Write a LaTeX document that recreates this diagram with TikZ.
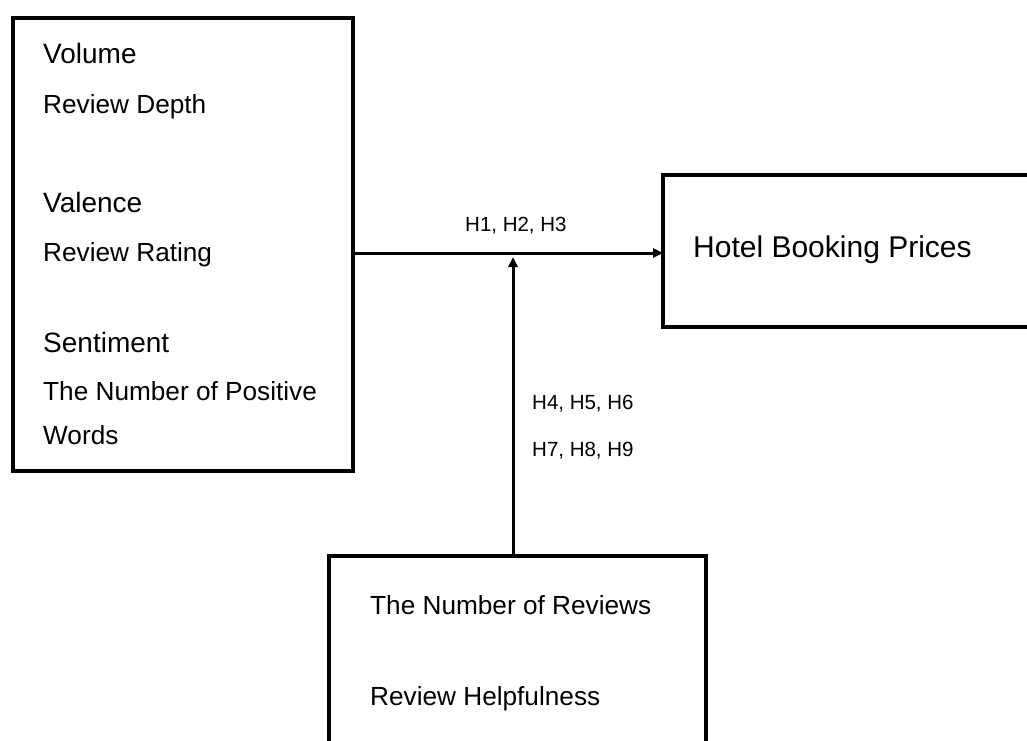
\documentclass[tikz,border=0pt]{standalone}
\usepackage{fontspec}
\setmainfont{Liberation Sans}
\usetikzlibrary{arrows.meta}
\begin{document}
\begin{tikzpicture}[x=1pt,y=-1pt,
  box/.style={draw=black,line width=3.2pt,inner sep=0pt,outer sep=0pt,anchor=north west},
  big/.style={anchor=base west,inner sep=0pt,font=\fontsize{28}{30}\selectfont},
  small/.style={anchor=base west,inner sep=0pt,font=\fontsize{26.2}{28}\selectfont},
  hyp/.style={anchor=base west,inner sep=0pt,font=\fontsize{20.5}{22}\selectfont},
  conn/.style={line width=3pt,-{Triangle[length=10pt,width=9pt]}}]
\useasboundingbox[fill=white] (0,0) rectangle (1027,740);
% boxes
\node[box,minimum width=340pt,minimum height=453pt] (left) at (13,18) {};
\node[box,minimum width=420pt,minimum height=152pt] (right) at (663,175) {};
\node[box,minimum width=377pt,minimum height=230pt] (bottom) at (329,556) {};
% left box texts
\node[big] (vol) at (43,63) {Volume};
\node[small] (rd) at (43,113) {Review Depth};
\node[big] (val) at (43,212) {Valence};
\node[small] (rr) at (43,261) {Review Rating};
\node[big] (sen) at (43,352) {Sentiment};
\node[small] (npw1) at (43,400) {The Number of Positive};
\node[small] (npw2) at (43,444) {Words};
% right box text
\node[anchor=base west,inner sep=0pt,font=\fontsize{30}{32}\selectfont] (hbp) at (693,257) {Hotel Booking Prices};
% bottom box texts
\node[small] (nr) at (370,614) {The Number of Reviews};
\node[small] (rh) at (370,705) {Review Helpfulness};
% hypothesis labels
\node[hyp] (h13) at (465,231) {H1, H2, H3};
\node[hyp] (h46) at (532,409) {H4, H5, H6};
\node[hyp] (h79) at (532,456) {H7, H8, H9};
% connectors
\coordinate (j) at (513,253);
\coordinate (jt) at (513,257);
\draw[conn] (left.east |- j) -- (right.west |- j);
\draw[conn] (bottom.north -| j) -- (jt);
\end{tikzpicture}
\end{document}
